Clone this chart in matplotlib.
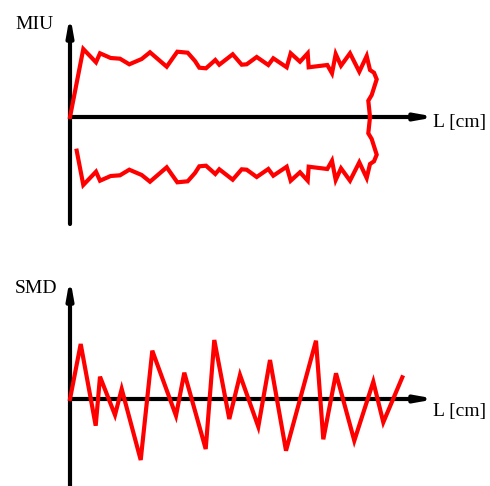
import matplotlib.pyplot as plt

# MIU profile (upper half, mirrored below the L axis)
miu_L = [0, 13.3, 26, 30, 40.7, 50, 59.3, 71.7, 80, 96.7, 107.3, 117.7, 125, 129.3,
         136, 145.3, 149.3, 162.7, 171.7, 176.7, 186.7, 198.3, 203.3, 216.7, 220.7,
         230, 237.7, 238.7, 257.3, 262, 265.7, 271, 280, 289.3, 296.7, 300, 304,
         306.7, 301.7, 298.3, 300]
miu_val = [0, 68, 54.7, 63.7, 59, 58.3, 52.7, 58, 64.7, 50.3, 65.3, 64.3, 56, 49.3,
           48.7, 57, 52.3, 62.7, 52.3, 52.7, 60, 52, 58.7, 49.7, 63.7,
           55.3, 63.7, 49.7, 52, 43.7, 63, 51.3, 63.7, 45.3, 61, 47, 44.3,
           37.7, 22, 16.3, 0]
# lower branch starts half way along the first segment
miu_lower_start = (6.7, -33.7)

# SMD signal
smd_L = [0, 10.7, 25.7, 30, 45, 51.7, 70.7, 82.3, 106, 114.3, 135.7, 144.3, 159.3,
         170, 188.3, 200, 216, 246, 253.3, 266, 284.3, 303.3, 313.3, 332.3]
smd_val = [0, 55, -26.7, 22.3, -16, 10, -61, 48.3, -16.7, 26.3, -50, 59, -20,
           24, -27.7, 39, -51.7, 58.3, -40.3, 25.7, -41.7, 17.3, -23.3, 21.7]

red = '#ff0000'
serif = 'Liberation Serif'

fig = plt.figure(figsize=(4.9, 4.86), dpi=100)
ax1 = fig.add_axes([0, 0.5, 1, 0.5])
ax2 = fig.add_axes([0, 0, 1, 0.5])


def draw_axes(ax, y_bottom, y_top, x_right):
    arrow = dict(arrowstyle='-|>,head_length=1.0,head_width=0.18',
                 color='black', lw=3, shrinkA=0, shrinkB=0)
    ax.annotate('', xy=(0, y_top), xytext=(0, y_bottom), arrowprops=arrow)
    ax.annotate('', xy=(x_right, 0), xytext=(0, 0), arrowprops=arrow)


# top panel: MIU
ax1.set_xlim(-70, 420)
ax1.set_ylim(-126, 117)
draw_axes(ax1, -107, 102, 366)
ax1.plot(miu_L, miu_val, color=red, lw=3, solid_joinstyle='miter', zorder=3)
lower_L = [miu_lower_start[0]] + miu_L[1:]
lower_val = [miu_lower_start[1]] + [-v for v in miu_val[1:]]
ax1.plot(lower_L, lower_val, color=red, lw=3, solid_joinstyle='miter', zorder=3)
ax1.text(-36, 88, 'MIU', family=serif, fontsize=14, ha='center', va='baseline')
ax1.text(363, -10, 'L [cm]', family=serif, fontsize=14, ha='left', va='baseline')
ax1.axis('off')

# bottom panel: SMD
ax2.set_xlim(-70, 420)
ax2.set_ylim(-87, 156)
draw_axes(ax2, -90, 121, 366)
ax2.plot(smd_L, smd_val, color=red, lw=3, solid_joinstyle='miter', zorder=3)
ax2.text(-34.5, 106, 'SMD', family=serif, fontsize=14, ha='center', va='baseline')
ax2.text(363, -17, 'L [cm]', family=serif, fontsize=14, ha='left', va='baseline')
ax2.axis('off')

fig.savefig('out.png', dpi=100)
